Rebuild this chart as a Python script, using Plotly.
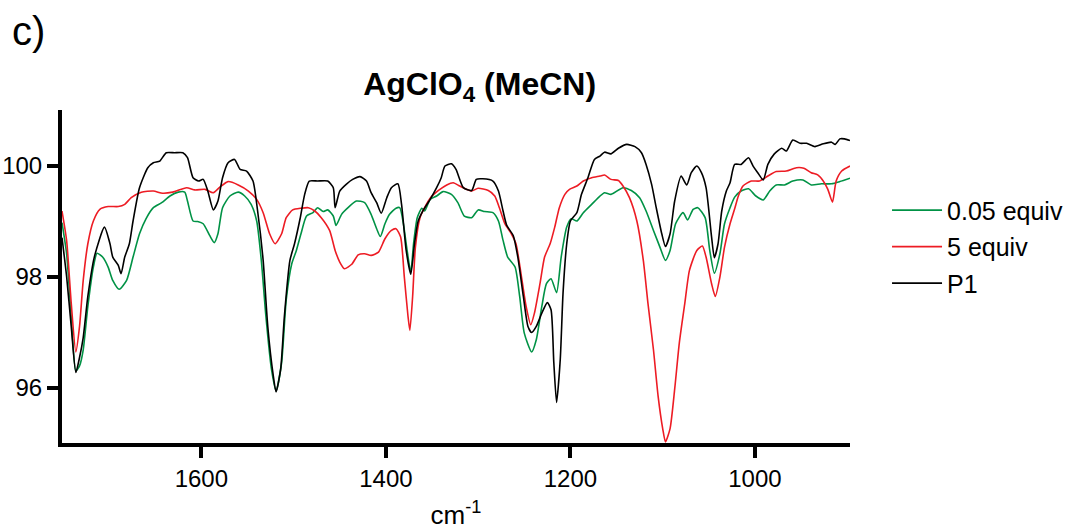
import plotly.graph_objects as go

# ---- data (wavenumber cm^-1, transmittance %) ----
p1_wn = [1751, 1746, 1741, 1736, 1732, 1728, 1723, 1716, 1705, 1699, 1696, 1690, 1687, 1683, 1678, 1674, 1667, 1658, 1652, 1645, 1638, 1629, 1620, 1615, 1609, 1603, 1598, 1593, 1587, 1582, 1577, 1571, 1564, 1558, 1551, 1544, 1539, 1533, 1528, 1522, 1519, 1514, 1510, 1504, 1499, 1493, 1488, 1483, 1474, 1463, 1457, 1455, 1450, 1443, 1436, 1428, 1421, 1416, 1410, 1405, 1399, 1394, 1387, 1383, 1378, 1373, 1369, 1365, 1360, 1352, 1345, 1340, 1336, 1329, 1324, 1316, 1307, 1302, 1295, 1284, 1278, 1273, 1269, 1262, 1257, 1251, 1246, 1242, 1237, 1231, 1225, 1221, 1218, 1215, 1211, 1208, 1204, 1200, 1193, 1188, 1181, 1174, 1168, 1163, 1156, 1148, 1139, 1130, 1123, 1118, 1112, 1107, 1101, 1097, 1092, 1087, 1080, 1074, 1069, 1063, 1058, 1053, 1047, 1044, 1040, 1036, 1031, 1027, 1022, 1015, 1007, 1002, 997, 991, 986, 979, 971, 966, 959, 951, 944, 935, 926, 917, 913, 908, 903, 897]
p1_t = [98.7, 98.0, 97.1, 96.27, 96.54, 96.9, 97.64, 98.35, 98.89, 98.59, 98.35, 98.20, 98.05, 98.35, 98.59, 99.0, 99.6, 99.96, 100.05, 100.08, 100.23, 100.23, 100.23, 100.14, 99.78, 99.72, 99.75, 99.54, 99.20, 99.36, 99.78, 100.05, 100.11, 99.93, 99.90, 99.72, 99.18, 98.29, 97.10, 96.21, 95.92, 96.33, 97.28, 98.29, 98.59, 99.04, 99.48, 99.72, 99.72, 99.72, 99.6, 99.24, 99.54, 99.66, 99.75, 99.80, 99.72, 99.51, 99.33, 99.14, 99.42, 99.6, 99.67, 99.30, 98.47, 98.04, 98.59, 99.0, 99.18, 99.39, 99.6, 99.78, 99.99, 100.03, 99.93, 99.60, 99.55, 99.75, 99.76, 99.72, 99.54, 99.18, 98.92, 98.74, 98.35, 97.64, 97.10, 96.99, 97.10, 97.34, 97.53, 97.40, 96.45, 95.73, 96.51, 97.70, 98.59, 99.0, 99.15, 99.48, 99.78, 100.11, 100.17, 100.24, 100.21, 100.31, 100.38, 100.34, 100.23, 100.02, 99.66, 99.24, 98.77, 98.54, 98.77, 99.36, 99.81, 99.65, 99.87, 99.99, 99.87, 99.6, 98.71, 98.34, 98.59, 99.18, 99.54, 99.69, 100.02, 100.02, 100.14, 99.99, 99.87, 99.74, 100.02, 100.21, 100.31, 100.26, 100.46, 100.40, 100.40, 100.34, 100.39, 100.42, 100.38, 100.48, 100.48, 100.45]

eq005_wn = [1751, 1746, 1741, 1736, 1732, 1728, 1723, 1717, 1713, 1707, 1701, 1696, 1689, 1681, 1674, 1667, 1660, 1652, 1643, 1634, 1625, 1618, 1615, 1609, 1604, 1598, 1591, 1586, 1582, 1577, 1569, 1560, 1553, 1546, 1540, 1535, 1530, 1524, 1519, 1513, 1508, 1502, 1497, 1492, 1486, 1479, 1474, 1468, 1463, 1457, 1454, 1448, 1441, 1432, 1423, 1416, 1410, 1406, 1401, 1396, 1389, 1385, 1381, 1377, 1373, 1370, 1366, 1361, 1358, 1352, 1345, 1338, 1329, 1322, 1315, 1307, 1300, 1293, 1284, 1278, 1273, 1268, 1260, 1255, 1250, 1242, 1237, 1231, 1226, 1221, 1215, 1210, 1204, 1199, 1193, 1186, 1177, 1168, 1163, 1156, 1143, 1134, 1125, 1118, 1110, 1103, 1097, 1092, 1086, 1078, 1073, 1067, 1062, 1054, 1049, 1044, 1038, 1033, 1027, 1022, 1015, 1007, 999, 991, 984, 977, 968, 959, 948, 939, 928, 917, 908, 897]
eq005_t = [98.97, 98.41, 97.28, 96.30, 96.39, 96.68, 97.46, 98.17, 98.42, 98.35, 98.17, 97.93, 97.77, 97.93, 98.35, 98.77, 99.04, 99.24, 99.33, 99.45, 99.52, 99.52, 99.36, 99.0, 98.99, 98.95, 98.74, 98.61, 98.77, 99.24, 99.45, 99.52, 99.45, 99.30, 99.0, 98.29, 97.28, 96.33, 95.94, 96.45, 97.58, 98.23, 98.47, 98.77, 99.09, 99.15, 99.24, 99.17, 99.20, 99.09, 98.92, 99.12, 99.24, 99.36, 99.33, 99.12, 98.86, 98.72, 98.95, 99.12, 99.23, 99.24, 98.95, 98.47, 98.08, 98.59, 99.06, 99.23, 99.18, 99.39, 99.45, 99.53, 99.48, 99.33, 99.09, 99.06, 99.20, 99.17, 99.15, 99.0, 98.65, 98.35, 98.17, 97.64, 96.98, 96.64, 96.86, 97.46, 97.87, 97.96, 97.71, 98.35, 98.89, 99.04, 99.0, 99.15, 99.30, 99.45, 99.51, 99.48, 99.60, 99.55, 99.42, 99.18, 98.83, 98.53, 98.29, 98.47, 98.95, 99.15, 99.02, 99.21, 99.24, 99.06, 98.47, 98.06, 98.41, 98.95, 99.24, 99.43, 99.54, 99.58, 99.45, 99.38, 99.54, 99.65, 99.65, 99.72, 99.74, 99.65, 99.67, 99.67, 99.71, 99.77]

eq5_wn = [1751, 1746, 1741, 1736, 1732, 1728, 1723, 1717, 1710, 1701, 1690, 1683, 1676, 1665, 1652, 1642, 1631, 1616, 1607, 1596, 1587, 1580, 1571, 1560, 1549, 1540, 1533, 1526, 1520, 1513, 1508, 1501, 1492, 1484, 1477, 1470, 1461, 1455, 1450, 1445, 1437, 1430, 1423, 1416, 1408, 1401, 1394, 1389, 1384, 1380, 1376, 1374, 1371, 1368, 1363, 1358, 1351, 1343, 1334, 1327, 1320, 1315, 1307, 1300, 1289, 1282, 1277, 1271, 1264, 1259, 1253, 1248, 1243, 1239, 1233, 1228, 1222, 1217, 1212, 1206, 1201, 1193, 1186, 1177, 1168, 1163, 1156, 1148, 1143, 1136, 1128, 1121, 1116, 1110, 1105, 1100, 1097, 1092, 1087, 1082, 1076, 1071, 1063, 1057, 1053, 1047, 1043, 1038, 1033, 1027, 1022, 1018, 1013, 1004, 995, 986, 977, 966, 955, 947, 939, 932, 926, 921, 916, 912, 906, 897]
eq5_t = [99.18, 98.65, 97.52, 96.64, 97.10, 97.93, 98.59, 99.0, 99.21, 99.26, 99.26, 99.30, 99.42, 99.52, 99.54, 99.50, 99.52, 99.60, 99.56, 99.57, 99.51, 99.61, 99.71, 99.65, 99.54, 99.39, 99.15, 98.77, 98.59, 98.77, 99.06, 99.20, 99.23, 99.24, 99.18, 99.06, 98.83, 98.47, 98.26, 98.14, 98.22, 98.39, 98.41, 98.38, 98.44, 98.68, 98.83, 98.86, 98.71, 97.99, 97.28, 97.03, 97.64, 98.53, 99.06, 99.24, 99.43, 99.55, 99.65, 99.69, 99.63, 99.59, 99.54, 99.59, 99.55, 99.45, 99.24, 98.95, 98.77, 98.59, 97.99, 97.46, 97.13, 97.34, 97.87, 98.35, 98.59, 98.89, 99.24, 99.48, 99.57, 99.63, 99.72, 99.78, 99.81, 99.83, 99.75, 99.73, 99.63, 99.42, 99.0, 98.29, 97.52, 96.68, 95.85, 95.26, 95.02, 95.26, 95.97, 96.80, 97.52, 98.11, 98.47, 98.55, 98.35, 97.87, 97.64, 97.99, 98.53, 98.95, 99.22, 99.45, 99.63, 99.72, 99.72, 99.81, 99.89, 99.90, 99.96, 99.95, 99.87, 99.83, 99.72, 99.57, 99.34, 99.72, 99.90, 99.99]

series_names = ["0.05 equiv", "5 equiv", "P1"]
series_colors = ["#009245", "#ED1C24", "#000000"]
x_ticks = [1600, 1400, 1200, 1000]
y_ticks = [96, 98, 100]

FONT = "Liberation Sans, Arial, sans-serif"

fig = go.Figure()
for name, color, wn, t in zip(series_names, series_colors,
                              [eq005_wn, eq5_wn, p1_wn], [eq005_t, eq5_t, p1_t]):
    fig.add_trace(go.Scatter(
        x=wn, y=t, mode="lines", name=name, legendgroup=name,
        line=dict(color=color, width=1.6, shape="spline", smoothing=0.6),
    ))

fig.update_layout(
    width=1082, height=530,
    margin=dict(l=62, r=232, t=110, b=87),
    paper_bgcolor="white", plot_bgcolor="white",
    font=dict(family=FONT, color="black", size=24),
    title=dict(text="<b>AgClO<sub>4</sub> (MeCN)</b>", x=0.53, xref="paper",
               xanchor="center", y=1 - 84 / 530, yref="container", yanchor="middle",
               font=dict(size=32, family=FONT, color="black")),
    showlegend=True,
    legend=dict(x=1.047, xanchor="left", y=0.589, yanchor="middle",
                font=dict(size=25, family=FONT), traceorder="grouped",
                tracegroupgap=1, itemwidth=50, bgcolor="rgba(0,0,0,0)"),
    annotations=[dict(text="c)", xref="paper", yref="paper",
                      x=(10 - 62) / 788, y=1 + (110 - 31) / 333,
                      showarrow=False, xanchor="left", yanchor="middle",
                      font=dict(size=40, family=FONT))],
)

fig.update_xaxes(
    range=[1751, 897], tickvals=x_ticks, ticktext=[str(v) for v in x_ticks],
    showgrid=False, zeroline=False, showline=True, linecolor="black", linewidth=4,
    ticks="outside", ticklen=11, tickwidth=4, tickcolor="black", automargin=False,
    tickfont=dict(size=24, family=FONT),
    title=dict(text="cm<sup>-1</sup>", standoff=22, font=dict(size=26, family=FONT)),
)
fig.update_yaxes(
    range=[95, 101], tickvals=y_ticks, ticktext=[str(v) for v in y_ticks],
    showgrid=False, zeroline=False, showline=True, linecolor="black", linewidth=4,
    ticks="outside", ticklen=11, tickwidth=4, tickcolor="black", automargin=False,
    tickfont=dict(size=24, family=FONT),
)

fig.write_html("out.html")
